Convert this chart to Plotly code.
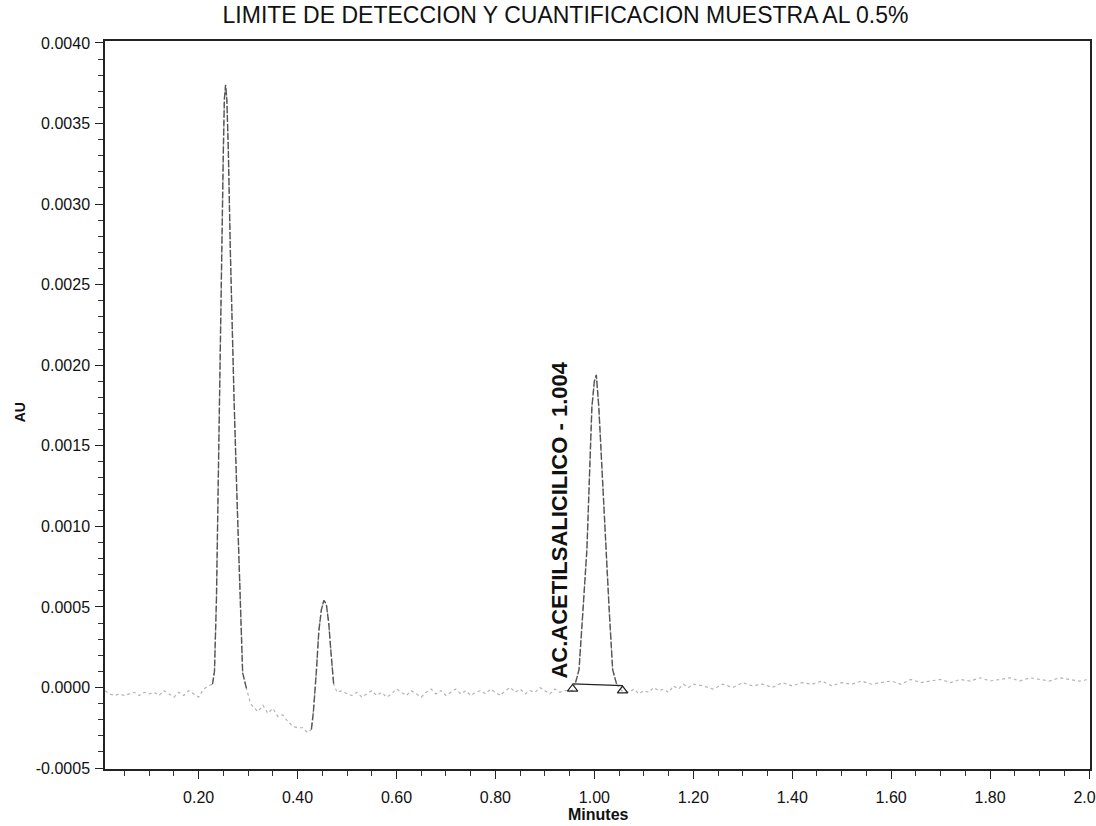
import plotly.graph_objects as go

# Chromatogram run: retention time (min) vs absorbance (AU)
time_min = [
    0.011, 0.02, 0.03, 0.04, 0.05, 0.06, 0.07, 0.08, 0.09, 0.10,
    0.11, 0.12, 0.13, 0.14, 0.15, 0.16, 0.17, 0.18, 0.19, 0.20,
    0.21, 0.22, 0.228,
    # first peak
    0.232, 0.236, 0.239, 0.241, 0.244, 0.246, 0.248, 0.250, 0.252, 0.2545,
    0.257, 0.260, 0.264, 0.2665, 0.2716, 0.2776, 0.2847, 0.289, 0.297,
    # negative dip after first peak
    0.300, 0.305, 0.31, 0.32, 0.33, 0.34, 0.35, 0.36, 0.37, 0.38,
    0.39, 0.40, 0.41, 0.42, 0.428,
    # second peak
    0.432, 0.438, 0.443, 0.448, 0.453, 0.458, 0.463, 0.468, 0.473, 0.480,
    # baseline
    0.49, 0.50, 0.51, 0.52, 0.53, 0.54, 0.55, 0.56, 0.57, 0.58,
    0.59, 0.60, 0.61, 0.62, 0.63, 0.64, 0.65, 0.66, 0.67, 0.68,
    0.69, 0.70, 0.71, 0.72, 0.73, 0.74, 0.75, 0.76, 0.77, 0.78,
    0.79, 0.80, 0.81, 0.82, 0.83, 0.84, 0.85, 0.86, 0.87, 0.88,
    0.89, 0.90, 0.91, 0.92, 0.93, 0.94, 0.955,
    # acetylsalicylic acid peak
    0.962, 0.969, 0.977, 0.985, 0.990, 0.995, 1.000, 1.004, 1.009, 1.016,
    1.023, 1.030, 1.037, 1.045, 1.055,
    # baseline to end of run
    1.07, 1.08, 1.09, 1.10, 1.11, 1.12, 1.13, 1.14, 1.15, 1.16,
    1.17, 1.18, 1.19, 1.20, 1.22, 1.24, 1.26, 1.28, 1.30, 1.32,
    1.34, 1.36, 1.38, 1.40, 1.42, 1.44, 1.46, 1.48, 1.50, 1.52,
    1.54, 1.56, 1.58, 1.60, 1.62, 1.64, 1.66, 1.68, 1.70, 1.72,
    1.74, 1.76, 1.78, 1.80, 1.82, 1.84, 1.86, 1.88, 1.90, 1.92,
    1.94, 1.96, 1.98, 2.00,
]

absorbance_au = [
    -0.00002, -0.00004, -0.00005, -0.00004, -0.00005, -0.00004, -0.00003, -0.00005, -0.00003, -0.00004,
    -0.00003, -0.00005, -0.00002, -0.00004, -0.00006, -0.00003, -0.00005, -0.00002, -0.00004, -0.00006,
    -0.00001, 0.00001, 0.00002,
    0.00010, 0.00055, 0.00117, 0.00179, 0.00240, 0.00272, 0.00303, 0.00334, 0.00365, 0.00374,
    0.00365, 0.00334, 0.00272, 0.00240, 0.00179, 0.00117, 0.00055, 0.00009, -0.00001,
    -0.00004, -0.00010, -0.00012, -0.00015, -0.00011, -0.00016, -0.00013, -0.00018, -0.00017, -0.00021,
    -0.00024, -0.00025, -0.00025, -0.00028, -0.00026,
    -0.00015, 0.00010, 0.00035, 0.00048, 0.00054, 0.00052, 0.00040, 0.00020, 0.00002, -0.00003,
    -0.00002, -0.00004, -0.00005, -0.00003, -0.00006, -0.00004, -0.00002, -0.00005, -0.00003, -0.00006,
    -0.00004, -0.00001, -0.00003, -0.00005, -0.00002, -0.00004, -0.00006, -0.00003, -0.00001, -0.00004,
    -0.00002, -0.00005, -0.00003, -0.00001, -0.00004, -0.00002, -0.00005, -0.00003, -0.00002, -0.00004,
    -0.00001, -0.00003, -0.00005, -0.00002, 0.00000, -0.00003, -0.00001, -0.00004, -0.00002, -0.00003,
    0.00000, -0.00002, -0.00004, -0.00001, -0.00003, -0.00002, -0.00002,
    0.00003, 0.00011, 0.00048, 0.00086, 0.00130, 0.00174, 0.00190, 0.00194, 0.00174, 0.00130,
    0.00086, 0.00048, 0.00011, 0.00002, -0.00002,
    -0.00003, -0.00001, -0.00004, -0.00002, -0.00003, 0.00000, -0.00002, -0.00001, -0.00003, 0.00001,
    -0.00001, 0.00002, 0.00000, 0.00002, 0.00001, -0.00001, 0.00002, 0.00000, 0.00003, 0.00001,
    0.00002, 0.00000, 0.00003, 0.00001, 0.00003, 0.00002, 0.00004, 0.00001, 0.00003, 0.00002,
    0.00004, 0.00002, 0.00003, 0.00004, 0.00002, 0.00005, 0.00003, 0.00004, 0.00005, 0.00003,
    0.00005, 0.00004, 0.00006, 0.00004, 0.00005, 0.00006, 0.00004, 0.00006, 0.00005, 0.00004,
    0.00006, 0.00005, 0.00004, 0.00005,
]

# Integration baseline of the labelled peak
integration_min = [0.956, 1.057]
integration_au = [0.000022, 0.000012]

peak_name = "AC.ACETILSALICILICO"
peak_rt = 1.004

x_tick_vals = [0.20, 0.40, 0.60, 0.80, 1.00, 1.20, 1.40, 1.60, 1.80, 2.00]
y_tick_vals = [-0.0005, 0.0000, 0.0005, 0.0010, 0.0015, 0.0020, 0.0025, 0.0030, 0.0035, 0.0040]

# Retention windows drawn in the darker pen
peak_windows = [(0.228, 0.297), (0.428, 0.475), (0.962, 1.045)]

dark_au = [
    a if any(lo <= t <= hi for lo, hi in peak_windows) else None
    for t, a in zip(time_min, absorbance_au)
]

FONT = "Arial, Liberation Sans, sans-serif"
Y_RANGE = [-0.000506, 0.004012]

fig = go.Figure()

# faint trace for the whole run
fig.add_trace(go.Scatter(
    x=time_min, y=absorbance_au, mode="lines",
    line=dict(color="#b4b4b4", width=1.2, dash="3px,3px"),
    hoverinfo="skip", showlegend=False,
))
# darker pen on the peaks
fig.add_trace(go.Scatter(
    x=time_min, y=dark_au, mode="lines", connectgaps=False,
    line=dict(color="#555555", width=1.4, dash="7px,2px"),
    hoverinfo="skip", showlegend=False,
))

# integration baseline with start/end ticks (triangles hang below the line)
px_per_au = 728 / (Y_RANGE[1] - Y_RANGE[0])
tri_offset = 5 / px_per_au
fig.add_trace(go.Scatter(
    x=integration_min, y=integration_au, mode="lines",
    line=dict(color="#222222", width=1.3),
    hoverinfo="skip", showlegend=False,
))
fig.add_trace(go.Scatter(
    x=integration_min, y=[v - tri_offset for v in integration_au], mode="markers",
    marker=dict(symbol="triangle-up-open", size=9, color="#222222",
                line=dict(width=1.2, color="#222222")),
    hoverinfo="skip", showlegend=False,
))

annotations = [
    dict(text=f"{peak_name} - {peak_rt:.3f}", x=0.930, y=0.00104,
         xref="x", yref="y", textangle=-90, showarrow=False,
         xanchor="center", yanchor="middle",
         font=dict(family=FONT, size=22, color="#111111", weight="bold")),
    dict(text="Minutes", x=0.5015, y=-0.062, xref="paper", yref="paper",
         showarrow=False, xanchor="center", yanchor="middle",
         font=dict(family=FONT, size=16, color="#111111", weight="bold")),
    dict(text="AU", x=-0.0863, y=0.49, xref="paper", yref="paper",
         showarrow=False, xanchor="center", yanchor="middle", textangle=-90,
         font=dict(family=FONT, size=14, color="#111111", weight="bold")),
]

fig.update_layout(
    width=1096, height=826,
    margin=dict(l=105, r=6, t=41, b=57),
    paper_bgcolor="white", plot_bgcolor="white",
    title=dict(
        text="LIMITE DE DETECCION Y CUANTIFICACION MUESTRA AL 0.5%",
        x=0.516, xanchor="center", y=0.982, yanchor="middle",
        yref="container", xref="container",
        font=dict(family="Liberation Sans Narrow, Arial Narrow, Arial, sans-serif",
                  size=23, color="#111111"),
    ),
    annotations=annotations,
    showlegend=False,
)

fig.update_xaxes(
    range=[0.0107, 2.002], automargin=False,
    tickmode="array", tickvals=x_tick_vals,
    ticktext=[f"{v:.2f}" for v in x_tick_vals],
    ticks="outside", ticklen=8, tickwidth=1.2, tickcolor="#222222",
    ticklabelstandoff=5, ticklabeloverflow="allow",
    minor=dict(dtick=0.05, tick0=0, ticks="outside", ticklen=5,
               tickwidth=1, tickcolor="#333333"),
    showline=True, linecolor="#222222", linewidth=1.5, mirror=True,
    showgrid=False, zeroline=False,
    tickfont=dict(family=FONT, size=16, color="#111111"),
)
fig.update_yaxes(
    range=Y_RANGE, automargin=False,
    tickmode="array", tickvals=y_tick_vals,
    ticktext=[f"{v:.4f}" for v in y_tick_vals],
    ticks="outside", ticklen=8, tickwidth=1.2, tickcolor="#222222",
    ticklabelstandoff=2,
    minor=dict(dtick=0.0001, tick0=0, ticks="outside", ticklen=5,
               tickwidth=1, tickcolor="#333333"),
    showline=True, linecolor="#222222", linewidth=1.5, mirror=True,
    showgrid=False, zeroline=False,
    tickfont=dict(family=FONT, size=16, color="#111111"),
)

fig.write_html("out.html")
